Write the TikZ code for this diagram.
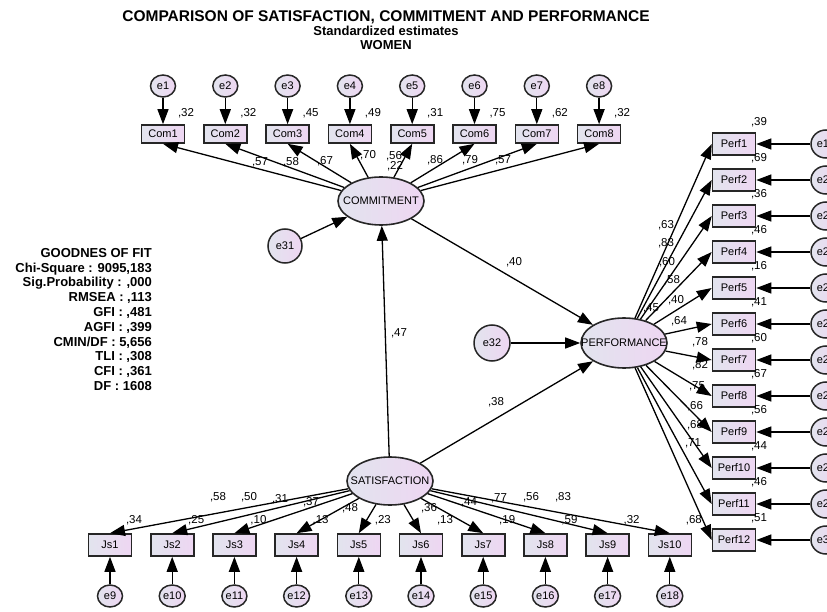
\documentclass[tikz,border=0pt]{standalone}
\usepackage{fontspec}
\setmainfont{Liberation Sans}
\usetikzlibrary{shapes.geometric,arrows.meta}

\definecolor{boxleft}{RGB}{226,228,238}
\definecolor{boxright}{RGB}{238,214,242}

\tikzset{
	obs/.style={draw=black!85, line width=1.6pt, rectangle, minimum width=43pt, minimum height=22pt, inner sep=0pt, left color=boxleft, right color=boxright, font=\fontsize{11}{13}\selectfont},
	latent/.style={draw=black!85, line width=1.6pt, ellipse, minimum width=86pt, minimum height=48pt, inner sep=0pt, left color=boxleft, right color=boxright, font=\fontsize{11}{13}\selectfont},
	err/.style={draw=black!85, line width=1.5pt, ellipse, minimum width=25pt, minimum height=22pt, inner sep=0pt, left color=boxleft, right color=boxright, font=\fontsize{11}{13}\selectfont},
	coef/.style={font=\fontsize{11.5}{13}\selectfont, inner sep=0pt},
	reg/.style={line width=1.3pt, -{Triangle[length=15pt,width=11pt]}},
}

\begin{document}
\begin{tikzpicture}[x=1pt,y=-1pt]
	\useasboundingbox (0,0) rectangle (827,612);

	% titles
	\node[font=\fontsize{15.5}{16}\selectfont\bfseries] (title) at (386,17) {COMPARISON OF SATISFACTION, COMMITMENT AND PERFORMANCE};
	\node[font=\fontsize{13}{14}\selectfont\bfseries] (subtitle) at (386,31) {Standardized estimates};
	\node[font=\fontsize{13}{14}\selectfont\bfseries] (group) at (386,45) {WOMEN};

	% goodness of fit
	\node[font=\fontsize{13}{14.8}\selectfont\bfseries, align=right, anchor=north east, inner sep=0pt] (fit) at (152,248) {GOODNES OF FIT\\ Chi-Square : 9095,183\\ Sig.Probability : ,000\\ RMSEA : ,113\\ GFI : ,481\\ AGFI : ,399\\ CMIN/DF : 5,656\\ TLI : ,308\\ CFI : ,361\\ DF : 1608};

	% latent variables
	\node[latent] (commit) at (381,201) {\makebox[0pt]{COMMITMENT}};
	\node[latent] (satis) at (390,481) {\makebox[0pt]{SATISFACTION}};
	\node[latent, minimum height=50pt] (perf) at (624,343) {\makebox[0pt]{PERFORMANCE}};
	\node[err, minimum width=34pt, minimum height=34pt] (e31) at (285,246) {e31};
	\node[err, minimum width=36pt, minimum height=36pt] (e32) at (492,343) {e32};

	% commitment items
	\foreach \i/\r in {1/{,32}, 2/{,32}, 3/{,45}, 4/{,49}, 5/{,31}, 6/{,75}, 7/{,62}, 8/{,32}} {
		\node[obs, minimum height=18pt] (com\i) at ({163+62.3*(\i-1)},134) {Com\i};
		\node[err] (e\i) at ({163+62.3*(\i-1)},86) {e\i};
		\node[coef] (rc\i) at ({186+62.3*(\i-1)},113) {\r};
		\draw[reg] (e\i) -- (com\i);
		\draw[reg] (commit) -- (com\i.south);
	}

	% satisfaction items
	\foreach \i/\r in {1/{,34}, 2/{,25}, 3/{,10}, 4/{,13}, 5/{,23}, 6/{,13}, 7/{,19}, 8/{,59}, 9/{,32}, 10/{,68}} {
		\pgfmathtruncatemacro{\j}{\i+8}
		\node[obs] (js\i) at ({110+62.2*(\i-1)},545) {Js\i};
		\node[err] (e\j) at ({110+62.2*(\i-1)},596) {e\j};
		\node[coef] (rj\i) at ({134+62.2*(\i-1)},520) {\r};
		\draw[reg] (e\j) -- (js\i);
		\draw[reg] (satis) -- (js\i.north);
	}

	% performance items
	\foreach \i/\r in {1/{,39}, 2/{,69}, 3/{,36}, 4/{,46}, 5/{,16}, 6/{,41}, 7/{,60}, 8/{,67}, 9/{,56}, 10/{,44}, 11/{,46}, 12/{,51}} {
		\pgfmathtruncatemacro{\j}{\i+18}
		\node[obs] (perf\i) at (734,{144+36*(\i-1)}) {Perf\i};
		\node[err, minimum width=30pt, minimum height=28pt] (e\j) at (826,{144+36*(\i-1)}) {e\j};
		\node[coef] (rp\i) at (759,{122+36*(\i-1)}) {\r};
		\draw[reg] (e\j) -- (perf\i);
		\draw[reg] (perf) -- (perf\i.west);
	}

	% structural paths
	\draw[reg] (e31) -- (commit);
	\draw[reg] (e32) -- (perf);
	\draw[reg] (satis) -- (commit);
	\draw[reg] (commit) -- (perf);
	\draw[reg] (satis) -- (perf);

	% loadings
	\foreach \v/\x/\y [count=\n] in {{,57}/260/162, {,58}/291/162, {,67}/325/161, {,70}/368/155, {,56}/394/156, {,86}/435/160, {,79}/470/160, {,57}/503/160}
		\node[coef] (lc\n) at (\x,\y) {\v};
	\foreach \v/\x/\y [count=\n] in {{,58}/218/497, {,50}/249/497, {,31}/280/499, {,37}/311/502, {,48}/350/508, {,36}/429/508, {,44}/469/502, {,77}/499/498, {,56}/531/497, {,83}/563/497}
		\node[coef] (lj\n) at (\x,\y) {\v};
	\foreach \v/\x/\y [count=\n] in {{,63}/666/225, {,83}/666/243, {,60}/667/262, {,58}/672/280, {,40}/676/300, {,64}/679/321, {,78}/700/342, {,82}/700/365, {,75}/697/386, {,66}/695/406, {,68}/695/425, {,71}/693/443}
		\node[coef] (lp\n) at (\x,\y) {\v};

	% squared multiple correlations and structural weights
	\node[coef] (rcommit) at (395,166) {,22};
	\node[coef] (rperf) at (651,308) {,45};
	\node[coef] (bsc) at (399,333) {,47};
	\node[coef] (bcp) at (514,262) {,40};
	\node[coef] (bsp) at (496,402) {,38};
\end{tikzpicture}
\end{document}
